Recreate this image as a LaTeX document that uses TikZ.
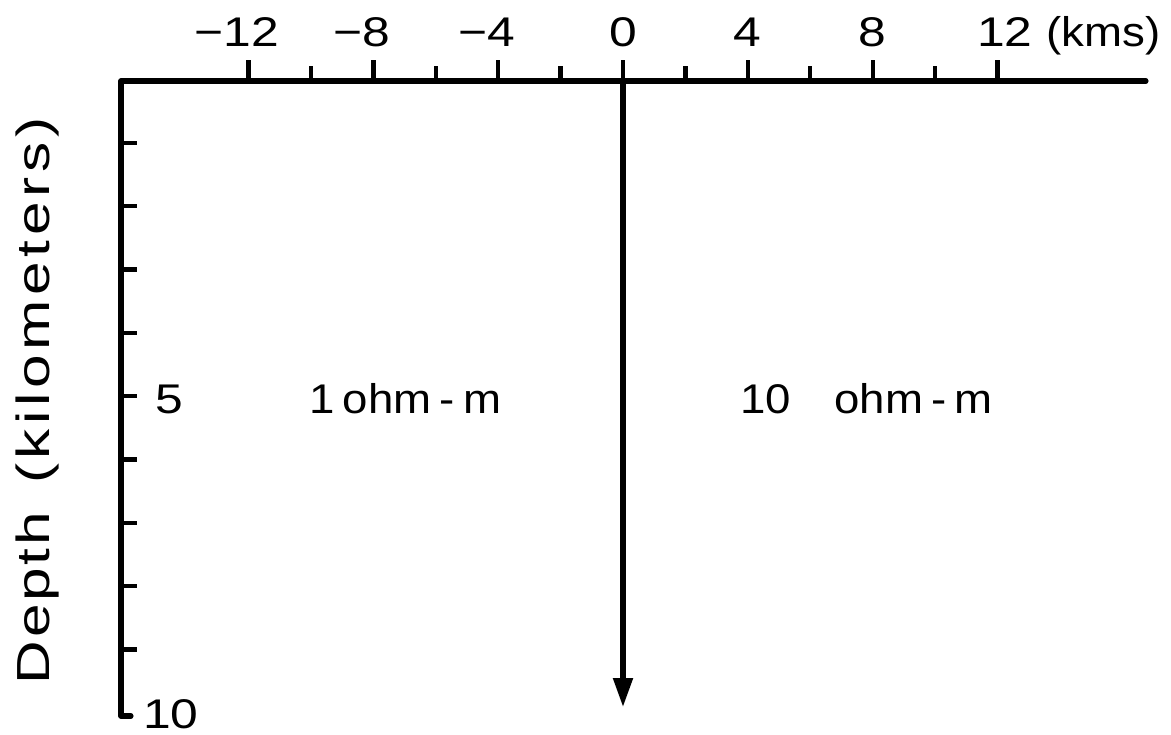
\documentclass[tikz,border=0pt]{standalone}
\usepackage{fontspec}
\setmainfont{Liberation Sans}
\newfontfamily\numfont[FakeStretch=1.2]{Liberation Sans}
\newfontfamily\ohmfont[FakeStretch=1.1,WordSpace=0.65]{Liberation Sans}
\newfontfamily\depthA[FakeStretch=1.3,LetterSpace=6]{Liberation Sans}
\newfontfamily\depthB[FakeStretch=1.3,LetterSpace=10]{Liberation Sans}
\usetikzlibrary{arrows.meta}
\begin{document}
\begin{tikzpicture}[x=0.025cm,y=-0.025cm,
  axis/.style={line width=3.6pt, line join=round, line cap=round},
  tickmark/.style={line width=3pt},
  lbl/.style={font=\fontsize{29.5}{30}\selectfont\numfont, inner sep=0pt},
  ohmlbl/.style={font=\fontsize{29.5}{30}\selectfont\ohmfont, inner sep=0pt},
  deplbl/.style={font=\fontsize{33}{34}\selectfont, inner sep=0pt},
]
\useasboundingbox (0,0) rectangle (1171,735);
% axes
\coordinate (corner) at (121,81);
\coordinate (xend) at (1146,81);
\coordinate (ybot) at (121,716);
\coordinate (ystub) at (131,716);
\draw[axis] (xend) -- (corner) -- (ybot) -- (ystub);
% top ticks
\foreach \k in {-12,-8,...,12}
  \draw[tickmark] ({623+31.2*\k},81) -- ({623+31.2*\k},60);
\foreach \k in {-10,-6,...,10}
  \draw[tickmark] ({623+31.2*\k},81) -- ({623+31.2*\k},66);
% depth ticks
\foreach \d in {1,...,9}
  \draw[tickmark] (121,{79.5+63.33*\d}) -- (137,{79.5+63.33*\d});
% top labels
\foreach \k/\t in {-12/12,-8/8,-4/4}
  \node[lbl,anchor=base] (xlm\t) at ({623+31.2*\k+3},47) {\llap{−}\t};
\foreach \k in {0,4,8}
  \node[lbl,anchor=base] (xl\k) at ({623+31.2*\k},47) {\k};
\node[lbl,anchor=base west] (xl12) at (977,47) {12 {\ohmfont(kms)}};
% depth labels
\node[lbl,anchor=base west] (d5) at (155,413) {5};
\node[lbl,anchor=base west] (d10) at (143,728) {10};
\node[deplbl,rotate=90,anchor=base] (dlabel) at (49,401)
  {{\depthA Depth} \hspace{11pt}{\depthB (kilometers)}};
% resistivity labels
\node[ohmlbl,anchor=base west] (r1) at (309,413) {1 ohm - m};
\node[ohmlbl,anchor=base west] (r10) at (740,413) {10 \hspace{25pt}ohm - m};
% boundary arrow
\coordinate (top0) at (623,81);
\coordinate (tip) at (623,707);
\draw[line width=3.6pt, -{Triangle[length=20.6pt,width=13.5pt]}] (top0) -- (tip);
\end{tikzpicture}
\end{document}
